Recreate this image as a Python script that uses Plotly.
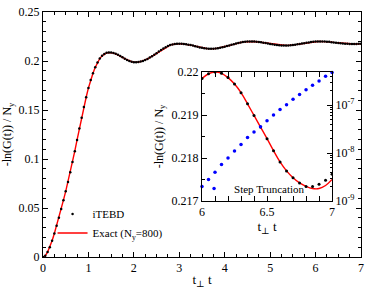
import numpy as np
import plotly.graph_objects as go

# time grid (t_perp * t), sampled every 0.05
t_main = np.round(np.arange(0, 7.0001, 0.05), 2).tolist()

# -ln(G(t))/N_y, exact solution (N_y = 800)
exact = [
    0.0000, 0.0012, 0.0050, 0.0100, 0.0165, 0.0240, 0.0320, 0.0400, 0.0490, 0.0580,
    0.0670, 0.0765, 0.0865, 0.0970, 0.1080, 0.1195, 0.1310, 0.1420, 0.1530, 0.1630,
    0.1725, 0.1805, 0.1875, 0.1935, 0.1985, 0.2025, 0.2053, 0.2072, 0.2083, 0.2087,
    0.2086, 0.2081, 0.2073, 0.2063, 0.2050, 0.2037, 0.2024, 0.2011, 0.2001, 0.1993,
    0.1988, 0.1987, 0.1989, 0.1994, 0.2001, 0.2010, 0.2021, 0.2035, 0.2049, 0.2064,
    0.2080, 0.2096, 0.2112, 0.2127, 0.2140, 0.2152, 0.2162, 0.2169, 0.2174, 0.2177,
    0.2177, 0.2176, 0.2174, 0.2171, 0.2167, 0.2162, 0.2157, 0.2151, 0.2145, 0.2139,
    0.2134, 0.2130, 0.2127, 0.2126, 0.2125, 0.2126, 0.2128, 0.2131, 0.2135, 0.2140,
    0.2145, 0.2152, 0.2158, 0.2165, 0.2172, 0.2178, 0.2184, 0.2190, 0.2194, 0.2197,
    0.2199, 0.2200, 0.2200, 0.2199, 0.2197, 0.2194, 0.2191, 0.2187, 0.2183, 0.2179,
    0.2174, 0.2170, 0.2167, 0.2163, 0.2161, 0.2159, 0.2158, 0.2158, 0.2159, 0.2160,
    0.2163, 0.2166, 0.2170, 0.2174, 0.2178, 0.2182, 0.2186, 0.2190, 0.2193, 0.2196,
    0.21985, 0.21996, 0.22000, 0.21997, 0.21987, 0.21972, 0.21952, 0.21926, 0.21899, 0.21872,
    0.21845, 0.21817, 0.21791, 0.21770, 0.21754, 0.21742, 0.21734, 0.21729, 0.21729, 0.21736,
    0.21750,
]

# iTEBD: identical to the exact curve within plotting accuracy, except the last points
itebd = exact[:136] + [0.21734, 0.21734, 0.21739, 0.21748, 0.21762]

# inset window 6 <= t <= 7
t_inset = t_main[120:]
exact_inset = exact[120:]
itebd_inset = itebd[120:]

# step truncation error (right log axis of the inset)
trunc_err = [
    2.0e-9, 2.8e-9, 4.0e-9, 5.8e-9, 7.9e-9, 1.1e-8, 1.5e-8, 2.1e-8, 2.75e-8, 3.55e-8,
    4.7e-8, 6.2e-8, 8.1e-8, 1.02e-7, 1.32e-7, 1.66e-7, 2.1e-7, 2.6e-7, 3.2e-7, 4.0e-7,
    4.8e-7,
]

FONT = "Liberation Serif, Times New Roman, DejaVu Serif, serif"
fig = go.Figure()

fig.add_trace(go.Scatter(x=t_main, y=exact, mode="lines", name="Exact (N<sub>y</sub>=800)",
                         line=dict(color="#ff0000", width=1.4), legendrank=2))
fig.add_trace(go.Scatter(x=t_main, y=itebd, mode="markers", name="iTEBD",
                         marker=dict(color="black", size=2.5), legendrank=1))

fig.add_trace(go.Scatter(x=t_inset, y=exact_inset, mode="lines", xaxis="x2", yaxis="y2",
                         line=dict(color="#ff0000", width=1.4, shape="spline"), showlegend=False))
fig.add_trace(go.Scatter(x=t_inset, y=itebd_inset, mode="markers", xaxis="x2", yaxis="y2",
                         marker=dict(color="black", size=3), showlegend=False))
fig.add_trace(go.Scatter(x=t_inset, y=trunc_err, mode="markers", xaxis="x2", yaxis="y3",
                         name="Step Truncation", legend="legend2",
                         marker=dict(color="#0000ff", size=3.5), cliponaxis=False))

axis_common = dict(showline=True, linecolor="black", linewidth=1, showgrid=False,
                   zeroline=False, ticks="inside", ticklen=5, tickcolor="black",
                   automargin=False,
                   tickfont=dict(family=FONT, size=12, color="black"))

fig.update_layout(
    width=374, height=289,
    margin=dict(l=43, r=13, t=12, b=32),
    paper_bgcolor="white", plot_bgcolor="white",
    font=dict(family=FONT, size=12, color="black"),
    xaxis=dict(domain=[0, 1], range=[0, 7], dtick=1, mirror="allticks",
               minor=dict(dtick=0.25, ticks="inside", ticklen=3, tickcolor="black"),
               title=dict(text="t<sub>⊥</sub> t", standoff=5,
                          font=dict(family=FONT, size=13)),
               **axis_common),
    yaxis=dict(domain=[0, 1], range=[0, 0.25], dtick=0.05, mirror="allticks",
               minor=dict(dtick=0.01, ticks="inside", ticklen=3, tickcolor="black"),
               title=dict(text="-ln(G(t)) / N<sub>y</sub>", standoff=5,
                          font=dict(family=FONT, size=12)),
               **axis_common),
    xaxis2=dict(domain=[0.5, 0.909], anchor="y2", range=[6, 7], dtick=0.5, mirror="allticks",
                minor=dict(dtick=0.1, ticks="inside", ticklen=3, tickcolor="black"),
                title=dict(text="t<sub>⊥</sub> t", standoff=0,
                           font=dict(family=FONT, size=13)),
                **axis_common),
    yaxis2=dict(domain=[0.2286, 0.755], anchor="x2", range=[0.217, 0.22], dtick=0.001,
                mirror=True,
                minor=dict(dtick=0.0005, ticks="inside", ticklen=3, tickcolor="black"),
                title=dict(text="-ln(G(t)) / N<sub>y</sub>", standoff=5,
                           font=dict(family=FONT, size=12)),
                **axis_common),
    yaxis3=dict(overlaying="y2", side="right", anchor="x2", type="log", range=[-9, -6.31],
                tickvals=[1e-9, 1e-8, 1e-7],
                ticktext=["10<sup>-9</sup>", "10<sup>-8</sup>", "10<sup>-7</sup>"],
                minor=dict(dtick="D1", ticks="inside", ticklen=2.5, tickcolor="black"),
                **axis_common),
    legend=dict(x=0.03, y=0.235, xanchor="left", yanchor="top", bgcolor="rgba(0,0,0,0)",
                font=dict(family=FONT, size=11), tracegroupgap=0, itemwidth=30),
    legend2=dict(x=0.475, y=0.28, xanchor="left", yanchor="middle", bgcolor="rgba(0,0,0,0)",
                 font=dict(family=FONT, size=11), itemwidth=30),
)

fig.write_html("out.html", config={"displayModeBar": False},
               post_script="document.body.style.margin='0';")
